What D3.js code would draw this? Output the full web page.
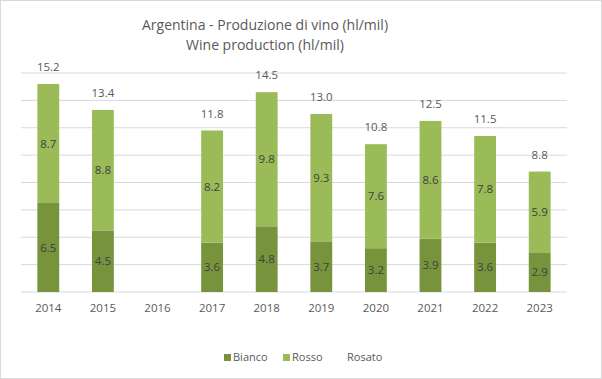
<!DOCTYPE html>
<html>
<head>
<meta charset="utf-8">
<script src="https://cdn.jsdelivr.net/npm/d3@7"></script>
<style>
  body { margin: 0; background: #fff; }
  text { font-family: "Open Sans", "Liberation Sans", sans-serif; fill: #595959; }
</style>
</head>
<body>
<script>
// chart data
let years = ["2014","2015","2016","2017","2018","2019","2020","2021","2022","2023"];
let bianco = [6.5, 4.5, null, 3.6, 4.8, 3.7, 3.2, 3.9, 3.6, 2.9];
let rosso = [8.7, 8.8, null, 8.2, 9.8, 9.3, 7.6, 8.6, 7.8, 5.9];
let totals = [15.2, 13.4, null, 11.8, 14.5, 13.0, 10.8, 12.5, 11.5, 8.8];
let yTicks = [0, 2, 4, 6, 8, 10, 12, 14, 16];

let width = 602, height = 379;
let margin = {left: 21, right: 35, top: 73, bottom: 87};
let innerW = width - margin.left - margin.right;
let innerH = height - margin.top - margin.bottom;

let colBianco = "#77933c";
let colRosso = "#9bbb59";

let svg = d3.select("body").append("svg").attr("width", width).attr("height", height);

// outer border
svg.append("rect").attr("x", 0.5).attr("y", 0.5).attr("width", width - 1).attr("height", height - 1)
  .attr("fill", "#fff").attr("stroke", "#d9d9d9");

// title
let title = svg.append("text").attr("x", 265).attr("y", 30).attr("text-anchor", "middle").style("font-size", "14px");
title.append("tspan").attr("x", 265).text("Argentina - Produzione di vino (hl/mil)");
title.append("tspan").attr("x", 265).attr("dy", 20).text("Wine production (hl/mil)");

let g = svg.append("g").attr("transform", "translate(" + margin.left + "," + margin.top + ")");

let x = d3.scaleBand().domain(years).range([0, innerW]).paddingInner(0.6).paddingOuter(0.3);
let y = d3.scaleLinear().domain([0, 16]).range([innerH, 0]);

// gridlines
g.selectAll(".grid").data(yTicks).enter().append("line")
  .attr("x1", 0).attr("x2", innerW)
  .attr("y1", d => y(d)).attr("y2", d => y(d))
  .attr("stroke", "#d9d9d9").attr("stroke-width", 1);

let rows = years.map((yr, i) => ({year: yr, b: bianco[i], r: rosso[i], t: totals[i]})).filter(d => d.b != null);

// bianco bars
g.selectAll(".b").data(rows).enter().append("rect")
  .attr("x", d => x(d.year)).attr("width", x.bandwidth())
  .attr("y", d => y(d.b)).attr("height", d => innerH - y(d.b))
  .attr("fill", colBianco);

// rosso bars
g.selectAll(".r").data(rows).enter().append("rect")
  .attr("x", d => x(d.year)).attr("width", x.bandwidth())
  .attr("y", d => y(d.b + d.r)).attr("height", d => y(d.b) - y(d.b + d.r))
  .attr("fill", colRosso);

// segment labels
g.selectAll(".lb").data(rows).enter().append("text")
  .attr("x", d => x(d.year) + x.bandwidth() / 2)
  .attr("y", d => (y(d.b) + innerH) / 2).attr("dy", "0.35em")
  .attr("text-anchor", "middle").style("font-size", "11.5px").style("fill", "#3f3f3f")
  .text(d => d.b.toFixed(1));

g.selectAll(".lr").data(rows).enter().append("text")
  .attr("x", d => x(d.year) + x.bandwidth() / 2)
  .attr("y", d => (y(d.b) + y(d.b + d.r)) / 2).attr("dy", "0.35em")
  .attr("text-anchor", "middle").style("font-size", "11.5px").style("fill", "#3f3f3f")
  .text(d => d.r.toFixed(1));

// total labels
g.selectAll(".lt").data(rows).enter().append("text")
  .attr("x", d => x(d.year) + x.bandwidth() / 2)
  .attr("y", d => y(d.b + d.r) - 17).attr("dy", "0.35em")
  .attr("text-anchor", "middle").style("font-size", "11.5px")
  .text(d => d.t.toFixed(1));

// x axis labels
g.selectAll(".xl").data(years).enter().append("text")
  .attr("x", d => x(d) + x.bandwidth() / 2)
  .attr("y", innerH + 16).attr("dy", "0.35em")
  .attr("text-anchor", "middle").style("font-size", "11.5px")
  .text(d => d);

// legend
let legend = [
  {name: "Bianco", color: colBianco, x: 224},
  {name: "Rosso", color: colRosso, x: 283},
  {name: "Rosato", color: null, x: 338}
];
let lg = svg.append("g");
legend.forEach(l => {
  if (l.color) {
    lg.append("rect").attr("x", l.x).attr("y", 354).attr("width", 7).attr("height", 7).attr("fill", l.color);
  }
  lg.append("text").attr("x", l.x + 9).attr("y", 357).attr("dy", "0.35em")
    .style("font-size", "11px").text(l.name);
});
</script>
</body>
</html>
